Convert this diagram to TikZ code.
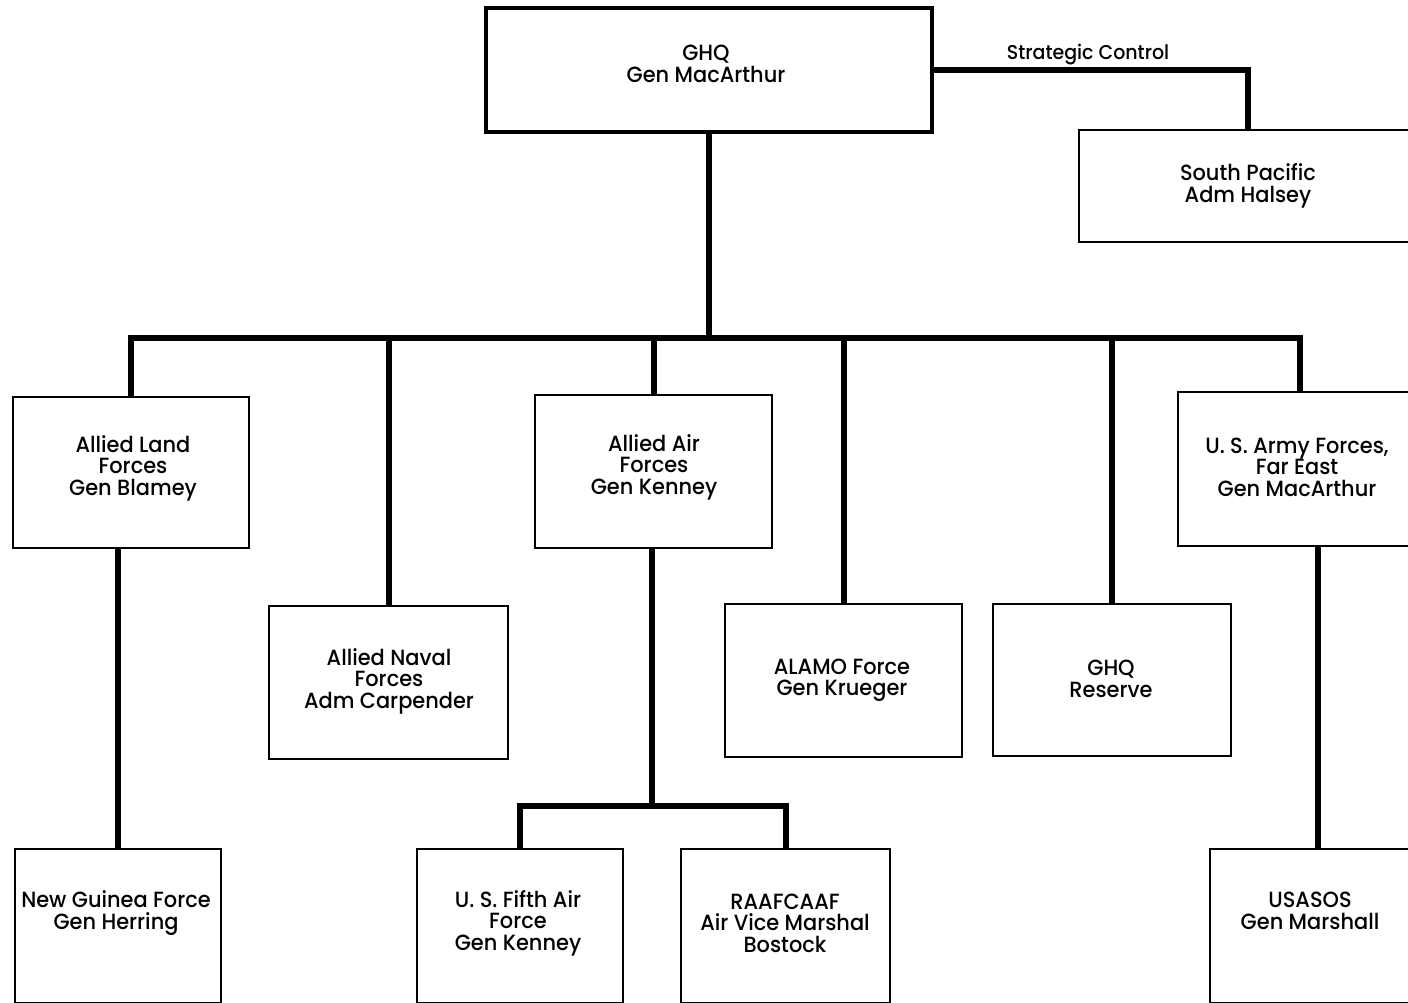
\documentclass[tikz,border=0pt]{standalone}
\usepackage{fontspec}
\setmainfont{Poppins}[UprightFont=* Medium,FakeStretch=0.95]
\begin{document}
\begin{tikzpicture}[x=1pt,y=-1pt,
  box/.style={draw=black,line width=2.7pt,fill=white,inner sep=0pt,outer sep=0pt,rectangle},
  topbox/.style={box,line width=4pt},
  conn/.style={draw=black,line width=6pt,line cap=butt,line join=miter},
  txt/.style={align=center,inner sep=0pt,font=\fontsize{22}{21.5}\selectfont},
  lbl/.style={inner sep=0pt,font=\fontsize{20}{20}\selectfont}]
\useasboundingbox (0,0) rectangle (1408,1002);
\begin{scope}
\clip (0,0) rectangle (1408,1002);
\coordinate (bus) at (707,338);
\coordinate (airbus) at (652,806);
% boxes
\node[topbox,minimum width=446pt,minimum height=124pt] (ghq) at (709,70) {};
\node[box,minimum width=338pt,minimum height=112pt] (sopac) at (1248,186) {};
\node[box,minimum width=236pt,minimum height=151pt] (alland) at (131,472.5) {};
\node[box,minimum width=239pt,minimum height=153pt] (alnav) at (388.5,682.5) {};
\node[box,minimum width=237pt,minimum height=153pt] (alair) at (653.5,471.5) {};
\node[box,minimum width=237pt,minimum height=153pt] (alamo) at (843.5,680.5) {};
\node[box,minimum width=238pt,minimum height=152pt] (ghqres) at (1112,680) {};
\node[box,minimum width=244pt,minimum height=154pt] (usaffe) at (1300,469) {};
\node[box,minimum width=206pt,minimum height=154pt] (ngf) at (118,926) {};
\node[box,minimum width=206pt,minimum height=154pt] (fifth) at (520,926) {};
\node[box,minimum width=209pt,minimum height=154pt] (raaf) at (785.5,926) {};
\node[box,minimum width=216pt,minimum height=154pt] (usasos) at (1318,926) {};
% connectors
\draw[conn] (ghq.east) -| (sopac.north);
\draw[conn] (ghq.south) -- (ghq.south |- bus);
\draw[conn] (alland.north) -- (alland.north |- bus) -- (usaffe.north |- bus) -- (usaffe.north);
\draw[conn] (alnav.north) -- (alnav.north |- bus);
\draw[conn] (alair.north) -- (alair.north |- bus);
\draw[conn] (alamo.north) -- (alamo.north |- bus);
\draw[conn] (ghqres.north) -- (ghqres.north |- bus);
\draw[conn] (ngf.north) -- (ngf.north |- alland.south);
\draw[conn] (airbus) -- (airbus |- alair.south);
\draw[conn] (fifth.north) -- (fifth.north |- airbus) -- (raaf.north |- airbus) -- (raaf.north);
\draw[conn] (usasos.north) -- (usasos.north |- usaffe.south);
% texts
\node[lbl] (sclbl) at (1088,55) {Strategic Control};
\node[txt] (ghq-t) at (706,64) {GHQ\\Gen MacArthur};
\node[txt] (sopac-t) at (1248,186) {South Pacific\\Adm Halsey};
\node[txt] (alland-t) at (133,468) {Allied Land\\Forces\\Gen Blamey};
\node[txt] (alnav-t) at (389,681) {Allied Naval\\Forces\\Adm Carpender};
\node[txt] (alair-t) at (654,467) {Allied Air\\Forces\\Gen Kenney};
\node[txt] (alamo-t) at (842,680) {ALAMO Force\\Gen Krueger};
\node[txt] (ghqres-t) at (1111,679) {GHQ\\Reserve};
\node[txt] (usaffe-t) at (1297,467) {U. S. Army Forces,\\Far East\\Gen MacArthur};
\node[txt] (ngf-t) at (116,913) {New Guinea Force\\Gen Herring};
\node[txt] (fifth-t) at (518,923) {U. S. Fifth Air\\Force\\Gen Kenney};
\node[txt] (raaf-t) at (785,923) {RAAFCAAF\\Air Vice Marshal\\Bostock};
\node[txt] (usasos-t) at (1310,911) {USASOS\\Gen Marshall};
\end{scope}
\end{tikzpicture}
\end{document}
